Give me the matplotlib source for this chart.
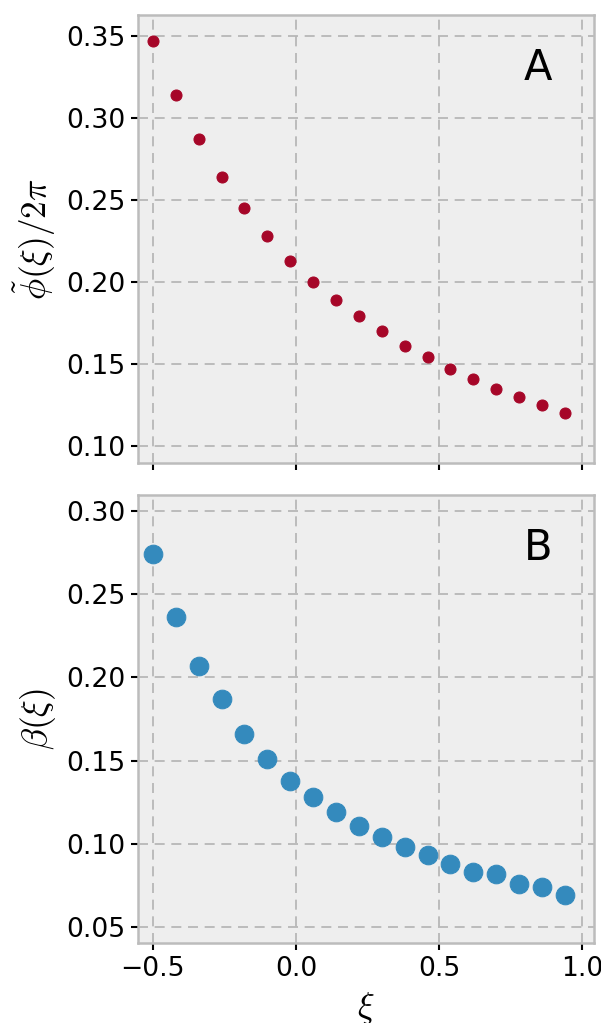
import numpy as np
import matplotlib
matplotlib.use('Agg')
import matplotlib.pyplot as plt

# data
xi = [-0.50, -0.42, -0.34, -0.26, -0.18, -0.10, -0.02, 0.06, 0.14, 0.22,
      0.30, 0.38, 0.46, 0.54, 0.62, 0.70, 0.78, 0.86, 0.94]
phi = [0.347, 0.314, 0.287, 0.264, 0.245, 0.228, 0.213, 0.200, 0.189, 0.179,
       0.170, 0.161, 0.154, 0.147, 0.141, 0.135, 0.130, 0.125, 0.120]
beta = [0.274, 0.236, 0.207, 0.187, 0.166, 0.151, 0.138, 0.128, 0.119, 0.111,
        0.104, 0.098, 0.093, 0.088, 0.083, 0.082, 0.076, 0.074, 0.069]

xticks = [-0.5, 0.0, 0.5, 1.0]
yticksA = [0.10, 0.15, 0.20, 0.25, 0.30, 0.35]
yticksB = [0.05, 0.10, 0.15, 0.20, 0.25, 0.30]

plt.style.use('bmh')
plt.rcParams['font.size'] = 12.8

fig, (ax1, ax2) = plt.subplots(2, 1, figsize=(601/150, 1023/150), dpi=150, sharex=True)
fig.subplots_adjust(left=0.2296, right=0.9884, top=0.9853, bottom=0.0782, hspace=0.0714)

ax1.scatter(xi, phi, s=28, color='#A60628', zorder=3)
ax2.scatter(xi, beta, s=80, color='#348ABD', zorder=3)

for ax, yt in [(ax1, yticksA), (ax2, yticksB)]:
    ax.set_facecolor('#eeeeee')
    ax.grid(True, color='#b2b2b2', linestyle=(0, (6, 4)), linewidth=0.8)
    ax.set_axisbelow(True)
    for sp in ax.spines.values():
        sp.set_color('#bcbcbc')
        sp.set_linewidth(1.2)
    ax.set_yticks(yt)
    ax.set_xticks(xticks)
    ax.tick_params(direction='out', length=3.5, width=1.0, color='black', pad=2.5,
                   labelsize=12.8, labelcolor='black', top=False, right=False)
    ax.set_xlim(-0.552, 1.042)

ax1.set_ylim(0.0896, 0.3628)
ax2.set_ylim(0.0404, 0.3096)
ax1.tick_params(labelbottom=False)

ax1.set_ylabel(r'$\tilde{\phi}(\xi)/2\pi$', fontsize=17)
ax2.set_ylabel(r'$\beta(\xi)$', fontsize=17)
ax2.set_xlabel(r'$\xi$', fontsize=17)

ax1.text(0.877, 0.882, 'A', transform=ax1.transAxes, fontsize=20, ha='center', va='center')
ax2.text(0.877, 0.882, 'B', transform=ax2.transAxes, fontsize=20, ha='center', va='center')

fig.savefig('out.png', dpi=150)
